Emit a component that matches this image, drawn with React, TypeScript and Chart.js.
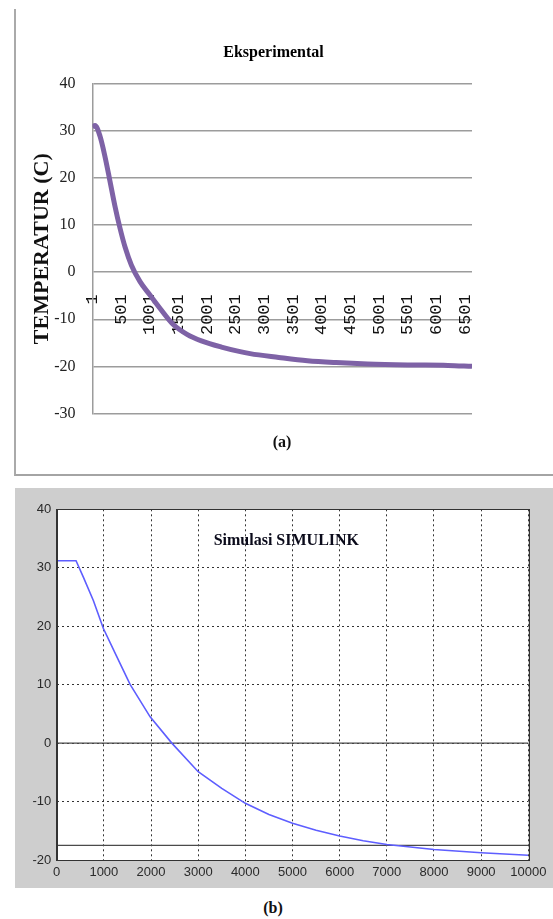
import { useEffect, useRef } from "react";
import { Chart, registerables } from "chart.js";

Chart.register(...registerables);

// ---- (a) Eksperimental ----
const expIndex = [1, 45, 130, 220, 305, 390, 480, 570, 680, 830, 1000, 1180, 1400, 1650, 1900, 2250, 2750, 3250, 3750, 4250, 4800, 5500, 6200, 6620];
const expTemp = [30.8, 31.2, 29.0, 24.5, 19.4, 14.2, 9.4, 5.3, 1.5, -2, -4.8, -7.7, -11, -13.2, -14.6, -15.9, -17.3, -18.1, -18.8, -19.2, -19.5, -19.7, -19.8, -20];
const expXTicks = [1, 501, 1001, 1501, 2001, 2501, 3001, 3501, 4001, 4501, 5001, 5501, 6001, 6501];
const expYTicks = [-30, -20, -10, 0, 10, 20, 30, 40];
const expXMax = 6620;

// ---- (b) Simulasi SIMULINK ----
const simTime = [0, 410, 565, 777, 990, 1274, 1556, 1981, 2441, 3000, 3500, 4000, 4500, 5000, 5500, 6000, 6500, 7000, 8000, 9000, 10000];
const simTemp = [31.2, 31.2, 28.4, 24.4, 19.6, 14.8, 10.05, 4.5, 0, -4.9, -7.75, -10.3, -12.2, -13.7, -14.9, -15.9, -16.7, -17.35, -18.2, -18.75, -19.2];
const simXTicks = [0, 1000, 2000, 3000, 4000, 5000, 6000, 7000, 8000, 9000, 10000];
const simYTicks = [-20, -10, 0, 10, 20, 30, 40];
const simRefLevels = [0, -17.5];

const SERIF = '"Liberation Serif", "Times New Roman", serif';
const SANS = '"Liberation Sans", Arial, sans-serif';
const MONO = '"Liberation Mono", "Courier New", monospace';

const plotBg = {
  id: "plotBg",
  beforeDraw(chart: any, _a: any, opts: any) {
    if (!opts || !opts.color) return;
    const { ctx, chartArea } = chart;
    ctx.save();
    ctx.fillStyle = opts.color;
    ctx.fillRect(chartArea.left, chartArea.top, chartArea.right - chartArea.left, chartArea.bottom - chartArea.top);
    ctx.restore();
  },
};

const plotFrame = {
  id: "plotFrame",
  afterDatasetsDraw(chart: any, _a: any, opts: any) {
    if (!opts || !opts.color) return;
    const { ctx, chartArea } = chart;
    ctx.save();
    ctx.strokeStyle = opts.color;
    ctx.lineWidth = 1;
    ctx.strokeRect(Math.round(chartArea.left) + 0.5, Math.round(chartArea.top) + 0.5, Math.round(chartArea.right - chartArea.left), Math.round(chartArea.bottom - chartArea.top));
    ctx.restore();
  },
};

// Chart title placed relative to the plot area (fractions of its size)
const placedTitle = {
  id: "placedTitle",
  afterDatasetsDraw(chart: any, _a: any, opts: any) {
    if (!opts || !opts.text) return;
    const { ctx, chartArea } = chart;
    ctx.save();
    ctx.font = opts.font;
    ctx.fillStyle = opts.color;
    ctx.textAlign = "center";
    ctx.textBaseline = "middle";
    const x = chartArea.left + (chartArea.right - chartArea.left) * opts.fx;
    const y = chartArea.top + (chartArea.bottom - chartArea.top) * opts.fy;
    ctx.fillText(opts.text, x, y);
    ctx.restore();
  },
};

export default function App() {
  const aRef = useRef<HTMLCanvasElement>(null);
  const bRef = useRef<HTMLCanvasElement>(null);

  useEffect(() => {
    const chartA = new Chart(aRef.current as HTMLCanvasElement, {
      type: "line",
      data: {
        datasets: [
          {
            data: expIndex.map((x, i) => ({ x, y: expTemp[i] })),
            borderColor: "#7E62A6",
            borderWidth: 5,
            pointRadius: 0,
            fill: false,
            cubicInterpolationMode: "monotone",
          },
        ],
      },
      options: {
        animation: false,
        responsive: false,
        maintainAspectRatio: false,
        layout: { padding: { left: 0, right: 61, top: 73, bottom: 12 } },
        plugins: {
          legend: { display: false },
          tooltip: { enabled: false },
          title: { display: false },
          placedTitle: {
            text: "Eksperimental",
            font: `bold 16px ${SERIF}`,
            color: "#000",
            fx: 0.477,
            fy: -0.0943,
          },
        },
        scales: {
          x: {
            type: "linear",
            position: { y: 0 },
            min: 1,
            max: expXMax,
            afterBuildTicks: (s: any) => {
              s.ticks = expXTicks.map((v) => ({ value: v }));
            },
            grid: { display: false, drawTicks: false },
            border: { display: false },
            ticks: {
              autoSkip: false,
              minRotation: 90,
              maxRotation: 90,
              padding: 22,
              color: "#111",
              font: { family: MONO, size: 17 },
              callback: (v: any) => String(v),
            },
          },
          y: {
            type: "linear",
            min: -30,
            max: 40,
            afterBuildTicks: (s: any) => {
              s.ticks = expYTicks.map((v) => ({ value: v }));
            },
            afterFit: (s: any) => {
              s.width = 78.5;
            },
            grid: { color: "#9c9c9c", lineWidth: 1.5, drawTicks: false },
            border: { display: true, color: "#9c9c9c", width: 1.5 },
            ticks: {
              padding: 17,
              color: "#222",
              font: { family: SERIF, size: 16 },
              callback: (v: any) => String(v),
            },
            title: {
              display: true,
              text: "TEMPERATUR (C)",
              color: "#111",
              font: { family: SERIF, size: 22, weight: "bold" },
              padding: { top: 14.8, bottom: 0 },
            },
          },
        },
      } as any,
      plugins: [placedTitle],
    });

    const chartB = new Chart(bRef.current as HTMLCanvasElement, {
      type: "line",
      data: {
        datasets: [
          {
            data: simTime.map((x, i) => ({ x, y: simTemp[i] })),
            borderColor: "#5E5EFF",
            borderWidth: 1.6,
            pointRadius: 0,
            fill: false,
            tension: 0,
          },
          ...simRefLevels.map((lv) => ({
            data: [
              { x: simXTicks[0], y: lv },
              { x: simXTicks[simXTicks.length - 1], y: lv },
            ],
            borderColor: "#4a4a4a",
            borderWidth: 1.3,
            pointRadius: 0,
            fill: false,
          })),
        ],
      },
      options: {
        animation: false,
        responsive: false,
        maintainAspectRatio: false,
        layout: { padding: { left: 0, right: 24.7, top: 21.3, bottom: 0 } },
        plugins: {
          legend: { display: false },
          tooltip: { enabled: false },
          title: { display: false },
          plotBg: { color: "#ffffff" },
          plotFrame: { color: "#333333" },
          placedTitle: {
            text: "Simulasi SIMULINK",
            font: `bold 16px ${SERIF}`,
            color: "#0a0a1a",
            fx: 0.487,
            fy: 0.0895,
          },
        },
        scales: {
          x: {
            type: "linear",
            min: 0,
            max: 10000,
            afterBuildTicks: (s: any) => {
              s.ticks = simXTicks.map((v) => ({ value: v }));
            },
            afterFit: (s: any) => {
              s.height = 28;
            },
            grid: { color: "#333", lineWidth: 1, drawTicks: false },
            border: { display: true, color: "#333", width: 1, dash: [2, 3] },
            ticks: {
              padding: 4.2,
              color: "#2a2a2a",
              font: { family: SANS, size: 13 },
              maxRotation: 0,
              autoSkip: false,
              callback: (v: any) => String(v),
            },
          },
          y: {
            type: "linear",
            min: -20,
            max: 40,
            afterBuildTicks: (s: any) => {
              s.ticks = simYTicks.map((v) => ({ value: v }));
            },
            afterFit: (s: any) => {
              s.width = 41.7;
            },
            grid: { color: "#333", lineWidth: 1, drawTicks: false },
            border: { display: true, color: "#333", width: 1, dash: [2, 3] },
            ticks: {
              padding: 5.5,
              color: "#2a2a2a",
              font: { family: SANS, size: 13 },
              callback: (v: any) => String(v),
            },
          },
        },
      } as any,
      plugins: [plotBg, plotFrame, placedTitle],
    });

    return () => {
      chartA.destroy();
      chartB.destroy();
    };
  }, []);

  const caption: any = {
    position: "absolute",
    width: 40,
    textAlign: "center",
    fontFamily: SERIF,
    fontWeight: "bold",
    fontSize: 16,
    lineHeight: "20px",
    color: "#111",
  };

  return (
    <div style={{ position: "absolute", left: 0, top: 0, width: 553, height: 919, background: "#fff", overflow: "hidden" }}>
      <div
        style={{
          position: "absolute",
          left: 14,
          top: 9,
          width: 560,
          height: 465,
          borderLeft: "2px solid #aaaaaa",
          borderBottom: "2px solid #a4a4a4",
        }}
      />
      <canvas ref={aRef} width={519} height={429} style={{ position: "absolute", left: 14, top: 11, width: 519, height: 429 }} />
      <div style={{ ...caption, left: 262, top: 432 }}>(a)</div>
      <div style={{ position: "absolute", left: 15, top: 488, width: 538, height: 400, background: "#cecece" }} />
      <canvas ref={bRef} width={538} height={400} style={{ position: "absolute", left: 15, top: 488, width: 538, height: 400 }} />
      <div style={{ ...caption, left: 253, top: 898 }}>(b)</div>
    </div>
  );
}
